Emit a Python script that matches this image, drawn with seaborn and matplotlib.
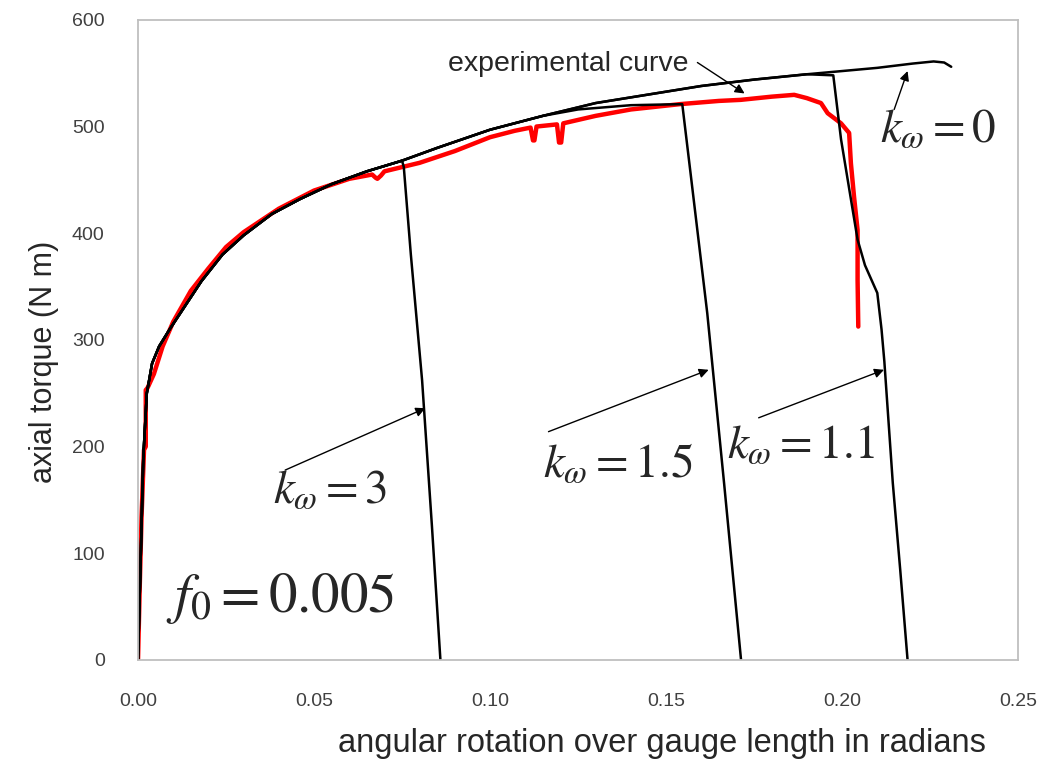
import numpy as np
import pandas as pd
import seaborn as sns
import matplotlib.pyplot as plt

# common simulated curve (k_omega = 0), rotation in rad / torque in N m
x_sim = [0, 0.0008, 0.0015, 0.0025, 0.004, 0.006, 0.009, 0.013, 0.018, 0.024, 0.03,
         0.038, 0.046, 0.055, 0.065, 0.075, 0.085, 0.1, 0.115, 0.13, 0.145, 0.16,
         0.175, 0.19, 0.2, 0.21, 0.22, 0.226, 0.229, 0.231]
y_sim = [0, 100, 190, 250, 278, 294, 310, 330, 355, 380, 398, 418, 432, 446, 458,
         468, 480, 497, 510, 522, 530, 538, 544, 549, 552, 555, 559, 561, 560, 556]

# failure branches
x_k3 = [0.0755, 0.0775, 0.0807, 0.0835, 0.0859]
y_k3 = [462, 380, 262, 125, 0]

x_k15_top = [0.125, 0.14, 0.1546]
y_k15_top = [516, 520, 521]
x_k15 = [0.157, 0.1617, 0.1665, 0.1713]
y_k15 = [455, 325, 165, 0]

x_k11 = [0.1975, 0.1997, 0.2044, 0.2065, 0.21, 0.2112, 0.212, 0.2144, 0.2165, 0.2186]
y_k11 = [548, 488, 394, 370, 344, 310, 280, 166, 85, 0]

# experimental curve (red)
x_exp = [0, 0.0005, 0.001, 0.0017, 0.0022, 0.0022, 0.0027, 0.0045, 0.007, 0.01, 0.015,
         0.02, 0.025, 0.03, 0.04, 0.05, 0.06, 0.0665, 0.0675, 0.068, 0.069, 0.07, 0.08,
         0.09, 0.1, 0.107, 0.1115, 0.1122, 0.1126, 0.1132, 0.119, 0.1196, 0.1202, 0.1208,
         0.13, 0.14, 0.154, 0.165, 0.1712, 0.18, 0.1864, 0.19, 0.194, 0.1959, 0.1997,
         0.202, 0.2025, 0.2034, 0.2044, 0.2044, 0.2046]
y_exp = [0, 70, 134, 197, 200, 253, 255, 268, 294, 317, 346, 367, 387, 401, 423, 440,
         451, 455, 452, 451, 454, 458, 466, 477, 490, 496, 499, 487, 487, 500, 502, 485,
         485, 503, 510, 516, 521, 524, 525, 528, 529.7, 526.6, 522, 512.5, 503, 494,
         465.6, 434, 403, 356, 312.5]

sim = pd.DataFrame({'x': x_sim, 'y': y_sim})

def branch(x_peak, xs, ys):
    part = sim[sim['x'] < x_peak]
    return pd.DataFrame({'x': list(part['x']) + xs, 'y': list(part['y']) + ys})

k3 = branch(x_k3[0], x_k3, y_k3)
k15 = branch(x_k15_top[0], x_k15_top + x_k15, y_k15_top + y_k15)
k11 = branch(x_k11[0], x_k11, y_k11)
exp = pd.DataFrame({'x': x_exp, 'y': y_exp})

sns.set_style('white')
plt.rcParams['font.family'] = ['Liberation Sans', 'DejaVu Sans']
plt.rcParams['mathtext.fontset'] = 'stix'

fig = plt.figure(figsize=(10.44, 7.63), dpi=100)
ax = fig.add_axes([0.1322, 0.135, 0.843, 0.839])

sns.lineplot(data=exp, x='x', y='y', sort=False, estimator=None, color='#ff0000', lw=3.2, ax=ax)
for d in [sim, k3, k15, k11]:
    sns.lineplot(data=d, x='x', y='y', sort=False, estimator=None, color='black', lw=1.8, ax=ax)

ax.set_xlim(0, 0.25)
ax.set_ylim(0, 600)
ax.set_xticks([0, 0.05, 0.10, 0.15, 0.20, 0.25])
ax.set_xticklabels(['0.00', '0.05', '0.10', '0.15', '0.20', '0.25'])
ax.set_yticks(range(0, 601, 100))
for s in ax.spines.values():
    s.set_color('#bfbfbf')
    s.set_linewidth(1.3)
ax.tick_params(direction='out', length=6, width=1.3, color='#bfbfbf',
               labelsize=14, labelcolor='#404040')
ax.tick_params(axis='y', pad=18)
ax.tick_params(axis='x', pad=18)
ax.set_xlabel('angular rotation over gauge length in radians', fontsize=23.5, labelpad=13, x=0.595)
ax.set_ylabel('axial torque (N m)', fontsize=22, labelpad=9, y=0.465)

arrow = dict(arrowstyle='-|>', color='black', lw=1, mutation_scale=14, shrinkA=0, shrinkB=0)

# arrows (head, tail)
ax.annotate('', xy=(0.1723, 531), xytext=(0.1589, 560), arrowprops=arrow)
ax.annotate('', xy=(0.2186, 552), xytext=(0.2148, 516), arrowprops=arrow)
ax.annotate('', xy=(0.0816, 236), xytext=(0.0418, 178), arrowprops=arrow)
ax.annotate('', xy=(0.1621, 272), xytext=(0.1166, 214), arrowprops=arrow)
ax.annotate('', xy=(0.2119, 272), xytext=(0.1763, 227), arrowprops=arrow)

ax.text(0.1565, 559, 'experimental curve', ha='right', va='center', fontsize=20.5)
ax.text(0.2273, 497, r'$k_{\omega}=0$', ha='center', va='center', fontsize=34)
ax.text(0.0546, 159, r'$k_{\omega}=3$', ha='center', va='center', fontsize=34)
ax.text(0.1362, 183, r'$k_{\omega}=1.5$', ha='center', va='center', fontsize=34)
ax.text(0.1883, 201, r'$k_{\omega}=1.1$', ha='center', va='center', fontsize=34)
ax.text(0.0404, 58, r'$f_0=0.005$', ha='center', va='center', fontsize=41)

fig.savefig('out.png', dpi=100)
